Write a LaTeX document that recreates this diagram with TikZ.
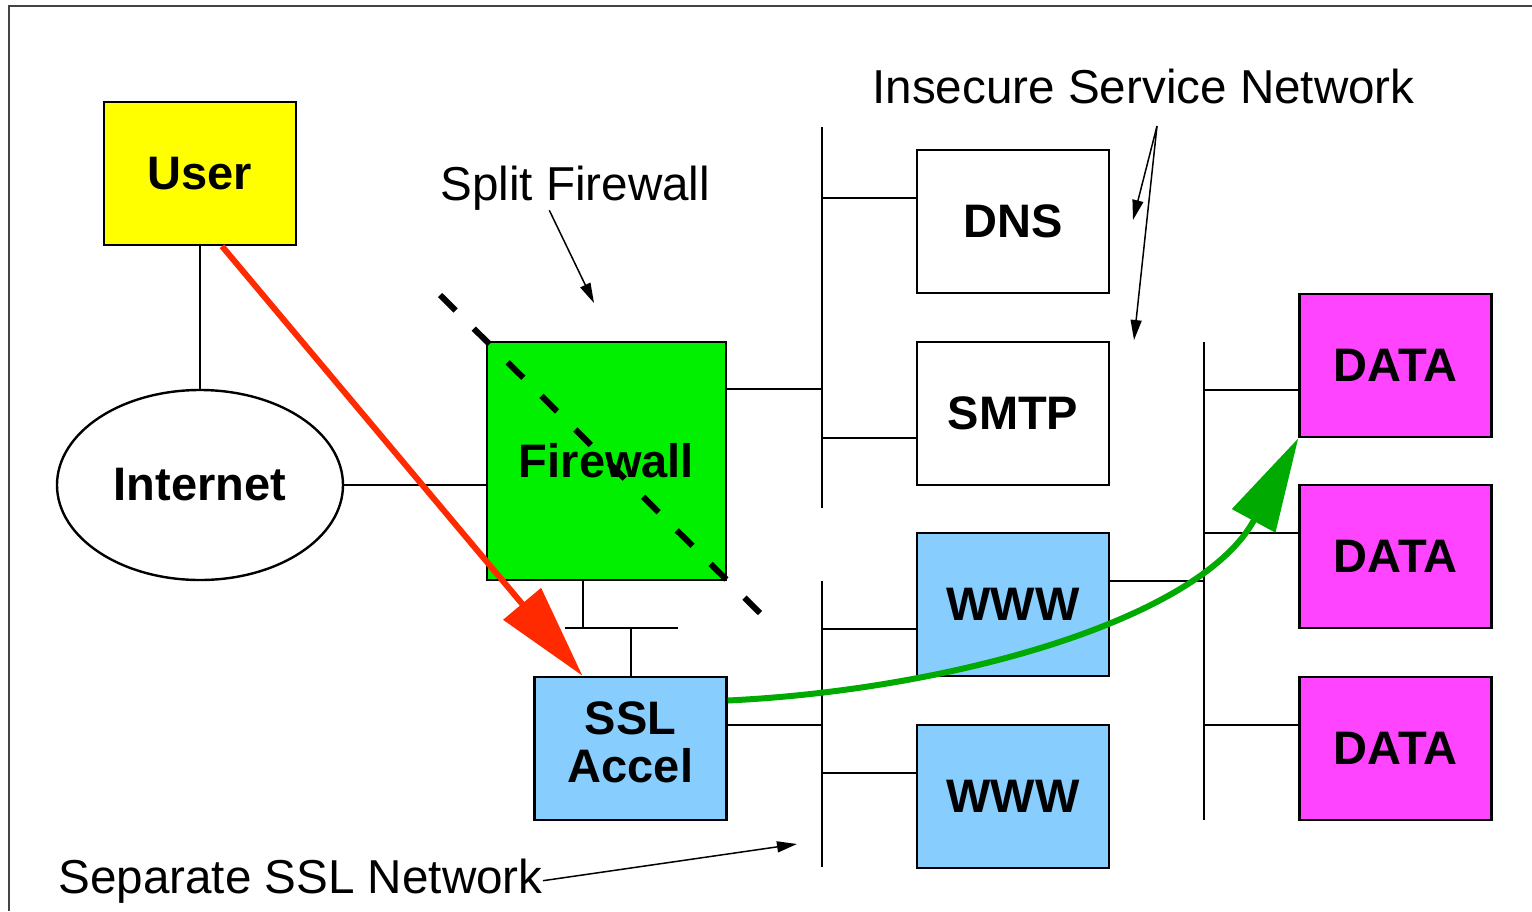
\documentclass[tikz,border=0pt]{standalone}
\usepackage{fontspec}
\setmainfont{Liberation Sans}
\usetikzlibrary{arrows.meta,shapes.geometric}

\definecolor{userfill}{HTML}{FFFF00}
\definecolor{fwfill}{HTML}{00F000}
\definecolor{srvfill}{HTML}{87CEFF}
\definecolor{datafill}{HTML}{FF44FF}
\definecolor{redflow}{HTML}{FF2A00}
\definecolor{greenflow}{HTML}{00AA00}
\definecolor{framegray}{HTML}{444444}

\begin{document}
\begin{tikzpicture}[x=0.5pt, y=-0.5pt,
    box/.style={draw, line width=1.2pt, minimum width=96pt, minimum height=71.5pt,
        inner sep=0pt, align=center, font=\fontsize{23.5}{24.5}\selectfont\bfseries},
    link/.style={line width=1pt},
    note/.style={inner sep=0pt, font=\fontsize{23.8}{24.5}\selectfont},
    pointer/.style={line width=0.75pt, -{Triangle[length=10pt,width=5.5pt]}},
    flow/.style={line width=3pt, -{Triangle[length=47pt,width=24pt]}}]
    \useasboundingbox (0,0) rectangle (1532,911);
    % okvir
    \draw[framegray, line width=1pt] (1532,6) -- (9,6) -- (9,911);

    % uporabnik, internet, pozarni zid
    \node[box, fill=userfill] (user) at (200,173.5) {User};
    \node[draw, ellipse, line width=1.2pt, minimum width=143pt, minimum height=95pt,
        inner sep=0pt, font=\fontsize{23.5}{24.5}\selectfont\bfseries] (internet) at (200,485) {Internet};
    \node[box, fill=fwfill, minimum width=119.5pt, minimum height=119pt] (firewall) at (606.5,461) {Firewall};
    \node[box, fill=srvfill] (ssl) at (630.5,748.5) {\raisebox{2pt}{\begin{tabular}{@{}c@{}}SSL\\[-0.5pt]Accel\end{tabular}}};

    % strezniki
    \node[box] (dns) at (1013,221.5) {DNS};
    \node[box] (smtp) at (1013,413.5) {SMTP};
    \node[box, fill=srvfill] (wwwa) at (1013,604.5) {WWW};
    \node[box, fill=srvfill] (wwwb) at (1013,796.5) {WWW};
    \node[box, fill=datafill] (dataa) at (1395.5,365.5) {DATA};
    \node[box, fill=datafill] (datab) at (1395.5,556.5) {DATA};
    \node[box, fill=datafill] (datac) at (1395.5,748.5) {DATA};

    % vodila
    \coordinate (upbus-t) at (822,127);
    \coordinate (upbus-b) at (822,508);
    \coordinate (lowbus-t) at (822,581);
    \coordinate (lowbus-b) at (822,867);
    \coordinate (databus-t) at (1204,342);
    \coordinate (databus-b) at (1204,820);
    \coordinate (sslbus-l) at (565,628);
    \coordinate (sslbus-r) at (678,628);
    \draw[link] (upbus-t) -- (upbus-b);
    \draw[link] (lowbus-t) -- (lowbus-b);
    \draw[link] (databus-t) -- (databus-b);
    \draw[link] (sslbus-l) -- (sslbus-r);

    % povezave
    \draw[link] (user.south) -- (internet.north);
    \draw[link] (internet.east) -- (internet.east -| firewall.west);
    \draw[link] ([yshift=36pt]firewall.east) -- ([yshift=36pt]firewall.east -| upbus-t);
    \draw[link] ([xshift=-12pt]firewall.south) -- ([xshift=-12pt]firewall.south |- sslbus-l);
    \draw[link] (ssl.north) -- (ssl.north |- sslbus-l);
    \draw[link] ([yshift=12pt]ssl.east) -- ([yshift=12pt]ssl.east -| lowbus-t);
    \draw[link] ([yshift=12pt]dns.west) -- ([yshift=12pt]dns.west -| upbus-t);
    \draw[link] ([yshift=-12pt]smtp.west) -- ([yshift=-12pt]smtp.west -| upbus-t);
    \draw[link] ([yshift=-12pt]wwwa.west) -- ([yshift=-12pt]wwwa.west -| lowbus-t);
    \draw[link] ([yshift=12pt]wwwb.west) -- ([yshift=12pt]wwwb.west -| lowbus-t);
    \draw[link] ([yshift=12pt]wwwa.east) -- ([yshift=12pt]wwwa.east -| databus-t);
    \draw[link] ([yshift=-12pt]dataa.west) -- ([yshift=-12pt]dataa.west -| databus-t);
    \draw[link] ([yshift=12pt]datab.west) -- ([yshift=12pt]datab.west -| databus-t);
    \draw[link] ([yshift=12pt]datac.west) -- ([yshift=12pt]datac.west -| databus-t);

    % tok podatkov
    \draw[flow, redflow] ([xshift=11pt]user.south) -- ([xshift=-24pt]ssl.north);
    \coordinate (split-a) at (440,295);
    \coordinate (split-b) at (760,613);
    \draw[line width=3pt, dash pattern=on 11pt off 12.85pt] (split-a) -- (split-b);
    \draw[flow, greenflow] ([yshift=24pt]ssl.east) .. controls (950,690) and (1200,620) .. (dataa.south west);

    % oznake
    \node[note, anchor=base west] (splitlabel) at (440,200) {Split Firewall};
    \coordinate (split-tip) at (594,303);
    \draw[pointer] ([xshift=-13pt]splitlabel.south) -- (split-tip);
    \node[note, anchor=base west] (insecurelabel) at (872,103) {Insecure Service Network};
    \coordinate (insecure-src) at (1157,126);
    \coordinate (insecure-tipa) at (1133,220);
    \coordinate (insecure-tipb) at (1134,340);
    \draw[pointer] (insecure-src) -- (insecure-tipa);
    \draw[pointer] (insecure-src) -- (insecure-tipb);
    \node[note, anchor=base west] (seplabel) at (58,893) {Separate SSL Network};
    \coordinate (sep-tip) at (797,844);
    \draw[pointer] (seplabel.east) -- (sep-tip);
\end{tikzpicture}
\end{document}
